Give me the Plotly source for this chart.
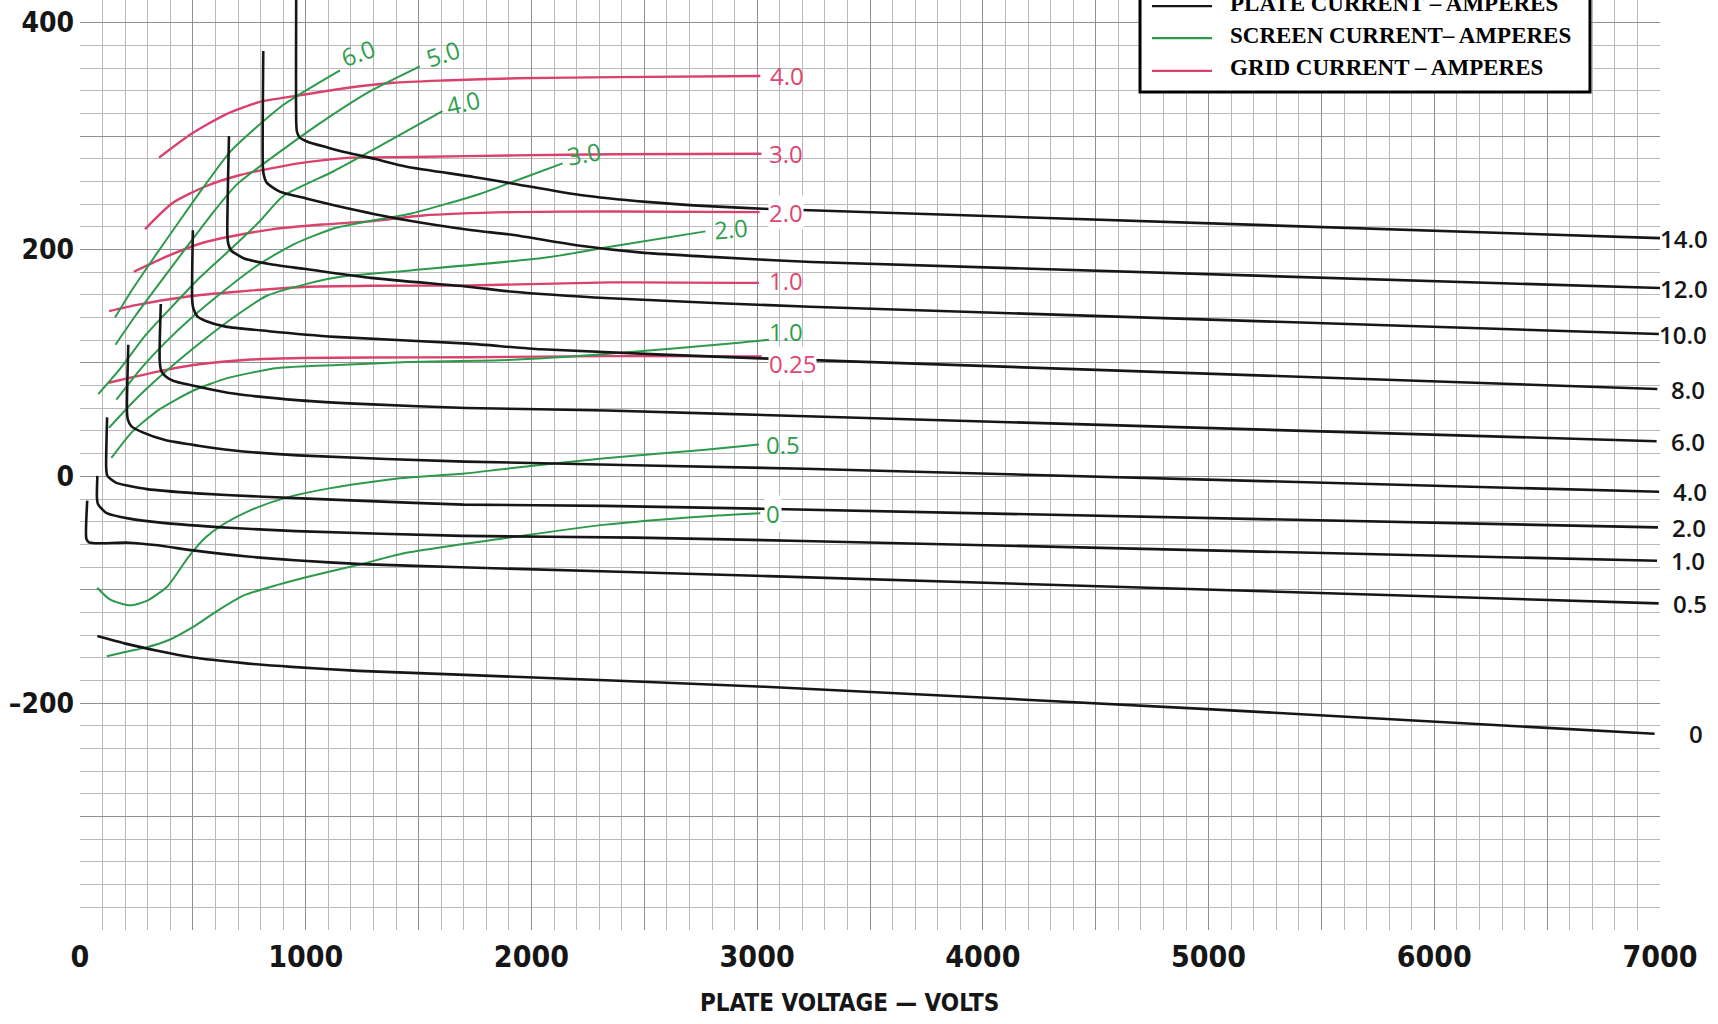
import plotly.graph_objects as go

# ---------------------------------------------------------------------------
# Constant-current characteristics: plate voltage (V) vs. grid voltage (V)
# ---------------------------------------------------------------------------

# Plate current curves (amperes)
PLATE_14_V = [958, 958, 961, 972, 1008, 1096, 1192, 1303, 1448, 1744, 1921, 2216, 2508, 2804, 3026, 7000]
PLATE_14_G = [430, 312, 304, 299, 295, 290, 285, 280, 273, 264, 258, 248, 242, 238, 236, 210]
PLATE_12_V = [812, 810, 814, 827, 885, 1002, 1149, 1442, 1737, 1914, 2208, 2501, 2797, 3240, 7000]
PLATE_12_G = [375, 274, 266, 259, 251, 245, 238, 226, 217, 213, 203.5, 197, 193.5, 189, 166]
PLATE_10_V = [660, 653, 657, 670, 700, 727, 845, 992, 1287, 1729, 1906, 2348, 3234, 6995]
PLATE_10_G = [300, 212, 205, 199, 195, 192, 187, 183, 175, 167, 163, 157, 149.5, 125.5]
PLATE_8_V = [500, 497, 502, 520, 557, 645, 836, 1131, 1721, 2044, 3019, 6988]
PLATE_8_G = [217, 156, 148, 141, 137, 132, 128, 123, 117, 112, 104, 77]
PLATE_6_V = [358, 353, 360, 380, 415, 533, 680, 974, 1269, 1712, 2333, 3219, 6985]
PLATE_6_G = [152, 102, 93, 88, 84, 78.6, 73, 67, 63.7, 60.3, 58, 53, 31]
PLATE_4_V = [214, 208, 212, 228, 275, 377, 524, 672, 967, 1705, 3212, 6996]
PLATE_4_G = [116, 58, 50, 44, 39, 32, 27, 23, 18.5, 13, 6.7, -13.6]
PLATE_2_V = [120, 116, 120, 140, 164, 297, 518, 813, 1256, 1699, 2320, 2998, 6991]
PLATE_2_G = [52, 8, 1, -3, -6, -11.3, -15, -18, -21.6, -24.9, -26, -28.5, -45]
PLATE_1_V = [77, 75, 80, 116, 219, 366, 661, 956, 1695, 2462, 3202, 6987]
PLATE_1_G = [0.4, -18.7, -24.6, -32.2, -37.3, -41, -45.3, -48.3, -52.5, -54, -57, -74.4]
PLATE_05_V = [32, 28, 38, 67, 216, 333, 510, 731, 952, 1247, 1690, 3051, 6994]
PLATE_05_G = [-21.4, -55, -58, -59, -58.5, -60.6, -65.5, -70.5, -74, -77.4, -80.2, -88, -112]
PLATE_0_V = [77, 202, 349, 495, 716, 937, 1233, 1676, 3035, 4975, 6976]
PLATE_0_G = [-140.8, -147.5, -154, -159.5, -164.5, -168, -171.5, -174.8, -185.5, -205, -227]

# Screen current curves (amperes)
SCREEN_6_V = [155, 236, 328, 437, 540, 669, 897, 1152]
SCREEN_6_G = [140, 166, 193, 224, 253, 287, 327, 358]
SCREEN_5_V = [157, 247, 355, 463, 571, 693, 905, 1087, 1290, 1506]
SCREEN_5_G = [116, 142, 171, 199.6, 228, 257, 289, 314.5, 340, 361.5]
SCREEN_4_V = [81, 180, 288.5, 395, 518, 655, 792, 899, 1124, 1304, 1606]
SCREEN_4_G = [72.5, 95.4, 124, 147, 172.7, 198, 224, 247, 269, 288.5, 322]
SCREEN_3_V = [161, 269, 376, 498, 634, 786, 951, 1131, 1295, 1473, 1771, 1921, 2138]
SCREEN_3_G = [67.6, 94.8, 117.7, 140.5, 163, 186, 205, 219, 225.5, 232, 249, 260, 276]
SCREEN_2_V = [128, 235, 357, 509, 675, 826, 1005, 1154, 1465, 2058, 2355, 2771]
SCREEN_2_G = [42.7, 65.6, 88.4, 114, 139.4, 159, 169.7, 176, 181.6, 192.7, 202.6, 216]
SCREEN_1_V = [139, 231, 352, 503, 652, 875, 1142, 1453, 1896, 2341, 2933, 3052]
SCREEN_1_G = [16.2, 39.2, 59, 75.7, 86.6, 95.5, 98.2, 100.8, 102.5, 108, 118, 120.4]
SCREEN_05_V = [76.5, 134, 222, 296, 387, 480, 556, 632, 752, 902, 1110, 1407, 1704, 1881, 2326, 2771, 3008]
SCREEN_05_G = [-98.2, -108.8, -113.7, -109.8, -97.1, -71.2, -54, -42.7, -30.2, -19.4, -10.4, -1.9, 2.5, 6.5, 16, 23.5, 28]
SCREEN_0_V = [118.5, 200.7, 290, 394, 499.5, 605, 725.6, 875, 1024, 1247, 1426, 1872, 2317, 2762, 3014]
SCREEN_0_G = [-158.7, -154.8, -151, -144.3, -133, -119, -105, -95.7, -87.8, -77.4, -68.2, -54.8, -42.8, -35.3, -32.5]

# Grid current curves (amperes)
GRID_4_V = [350, 494, 644, 793, 957, 1165, 1388, 1610, 1935, 2379, 3014]
GRID_4_G = [281, 302, 319, 330, 335.5, 342, 347, 349, 351, 352, 353]
GRID_3_V = [288, 410, 560, 710, 858, 1007, 1200, 1481, 1925, 2368, 3019]
GRID_3_G = [218, 241, 256, 265.7, 272, 277, 281, 281.6, 283, 284, 284.4]
GRID_2_V = [238, 403, 552, 701.5, 850, 1072, 1295, 1517, 1917, 2360, 3011]
GRID_2_G = [180.4, 195.5, 206.4, 212.8, 217.8, 222, 225, 230, 233, 233.5, 233]
GRID_1_V = [129, 248, 471, 694, 990, 1286, 1729, 2351, 3008]
GRID_1_G = [145.7, 151, 158.4, 162.8, 167, 168, 168.3, 171, 170.6]
GRID_025_V = [127, 238.5, 387, 536, 758, 980, 1276, 1719, 2340, 3020]
GRID_025_G = [82.5, 87.7, 94.1, 99, 103, 104.3, 104.8, 105, 106, 105.8]

PLATE_LABELS = ["14.0", "12.0", "10.0", "8.0", "6.0", "4.0", "2.0", "1.0", "0.5", "0"]
SCREEN_LABELS = ["6.0", "5.0", "4.0", "3.0", "2.0", "1.0", "0.5", "0"]
GRID_LABELS = ["4.0", "3.0", "2.0", "1.0", "0.25"]

LEGEND_TEXT = ["PLATE CURRENT – AMPERES", "SCREEN CURRENT– AMPERES", "GRID CURRENT – AMPERES"]

X_TICK_VALUES = [0, 500, 1000, 1500, 2000, 2500, 3000, 3500, 4000, 4500, 5000, 5500, 6000, 6500, 7000]
X_TICK_TEXT = ["0", "", "1000", "", "2000", "", "3000", "", "4000", "", "5000", "", "6000", "", "7000"]
Y_TICK_VALUES = [-400, -300, -200, -100, 0, 100, 200, 300, 400]
Y_TICK_TEXT = ["", "", "\u2013200", "", "0", "", "200", "", "400"]

AXIS_TITLE = "PLATE VOLTAGE \u2014 VOLTS"

# ---------------------------------------------------------------------------
BLACK = "#161616"
GREEN = "#2c9a4b"
RED = "#d9426c"
GREEN_TXT = "#2f9d4e"
RED_TXT = "#df4670"

COND = "Liberation Sans Narrow, DejaVu Sans Condensed, Arial Narrow, Liberation Sans, sans-serif"
LABEL_FONT = "Open Sans, Lato, Noto Sans, sans-serif"

plate = [(PLATE_14_V, PLATE_14_G), (PLATE_12_V, PLATE_12_G), (PLATE_10_V, PLATE_10_G),
         (PLATE_8_V, PLATE_8_G), (PLATE_6_V, PLATE_6_G), (PLATE_4_V, PLATE_4_G),
         (PLATE_2_V, PLATE_2_G), (PLATE_1_V, PLATE_1_G), (PLATE_05_V, PLATE_05_G),
         (PLATE_0_V, PLATE_0_G)]
screen = [(SCREEN_6_V, SCREEN_6_G), (SCREEN_5_V, SCREEN_5_G), (SCREEN_4_V, SCREEN_4_G),
          (SCREEN_3_V, SCREEN_3_G), (SCREEN_2_V, SCREEN_2_G), (SCREEN_1_V, SCREEN_1_G),
          (SCREEN_05_V, SCREEN_05_G), (SCREEN_0_V, SCREEN_0_G)]
grid = [(GRID_4_V, GRID_4_G), (GRID_3_V, GRID_3_G), (GRID_2_V, GRID_2_G),
        (GRID_1_V, GRID_1_G), (GRID_025_V, GRID_025_G)]

fig = go.Figure()

def add_family(curves, labels, color, width, name):
    for (v, g), lab in zip(curves, labels):
        fig.add_trace(go.Scatter(
            x=v, y=g, mode="lines", name=f"{name} {lab}",
            line=dict(color=color, width=width, shape="spline", smoothing=0.6),
            hoverinfo="skip", showlegend=False))

add_family(grid, GRID_LABELS, RED, 2.4, "Grid")
add_family(screen, SCREEN_LABELS, GREEN, 2.0, "Screen")
add_family(plate, PLATE_LABELS, BLACK, 2.6, "Plate")

annotations = []

# plate-current values, right-aligned beyond the 7000 V edge
for (v, g), lab in zip(plate, PLATE_LABELS):
    annotations.append(dict(
        x=v[-1], y=g[-1], xref="x", yref="y", text=lab, showarrow=False,
        xanchor="right", yanchor="middle", xshift=50,
        font=dict(family=LABEL_FONT, size=24, color=BLACK, weight=600)))

# screen-current values at the ends of the green curves (dx, dy, angle, white backing)
screen_offsets = [(18, 18, -20, False), (23, 13, -18, False), (20, 9, -13, False),
                  (21, 10, -10, False), (26, 3, -5, False), (17, 8, 0, False),
                  (24, 0, 0, False), (13, 0, 0, True)]
for (v, g), lab, (dx, dy, ang, bg) in zip(screen, SCREEN_LABELS, screen_offsets):
    annotations.append(dict(
        x=v[-1], y=g[-1], xref="x", yref="y", text=lab, showarrow=False,
        xanchor="center", yanchor="middle", xshift=dx, yshift=dy, textangle=ang,
        bgcolor="white" if bg else None, borderpad=1,
        font=dict(family=LABEL_FONT, size=24, color=GREEN_TXT, weight=500)))

# grid-current values at the ends of the red curves
grid_offsets = [(27, 0, False), (25, 0, False), (26, 0, True), (27, 2, False), (31, -7, True)]
for (v, g), lab, (dx, dy, bg) in zip(grid, GRID_LABELS, grid_offsets):
    annotations.append(dict(
        x=v[-1], y=g[-1], xref="x", yref="y", text=lab, showarrow=False,
        xanchor="center", yanchor="middle", xshift=dx, yshift=dy,
        bgcolor="white" if bg else None, borderpad=0,
        font=dict(family=LABEL_FONT, size=24, color=RED_TXT, weight=500)))

# x-axis title
annotations.append(dict(
    x=0.487, y=-0.078, xref="paper", yref="paper", text=AXIS_TITLE, showarrow=False,
    xanchor="center", yanchor="middle",
    font=dict(family=COND, size=24, color=BLACK, weight="bold")))

# legend box (drawn by hand so it can run off the top edge)
legend_rows_text_y = [0.9957, 0.9613, 0.9269]
legend_rows_line_y = [0.9935, 0.9591, 0.9237]
legend_colors = [BLACK, GREEN, RED]
shapes = [dict(type="rect", xref="paper", yref="paper", x0=0.6709, x1=0.9557, y0=0.9011, y1=1.08,
               line=dict(color="black", width=3), fillcolor="white", layer="above")]
for ty, ly, col, txt in zip(legend_rows_text_y, legend_rows_line_y, legend_colors, LEGEND_TEXT):
    shapes.append(dict(type="line", xref="paper", yref="paper", x0=0.6785, x1=0.7165, y0=ly, y1=ly,
                       line=dict(color=col, width=2.2), layer="above"))
    annotations.append(dict(
        x=0.7266, y=ty, xref="paper", yref="paper", text=txt, showarrow=False,
        xanchor="left", yanchor="middle",
        font=dict(family="Liberation Serif, Times New Roman, serif", size=23, color="black", weight="bold")))

fig.update_layout(
    width=1718, height=1024,
    margin=dict(l=80, r=58, t=0, b=94),
    paper_bgcolor="white", plot_bgcolor="white",
    showlegend=False,
    annotations=annotations, shapes=shapes,
    xaxis=dict(
        range=[0, 7000], tickmode="array", tickvals=X_TICK_VALUES, ticktext=X_TICK_TEXT,
        showgrid=True, gridcolor="#8f8f8f", gridwidth=1.4, zeroline=False, ticks="",
        showline=False, ticklabelstandoff=6,
        tickfont=dict(family=COND, size=30, color=BLACK, weight="bold"),
        minor=dict(tick0=0, dtick=100, showgrid=True, gridcolor="#b9b9b9", gridwidth=1),
    ),
    yaxis=dict(
        range=[-400, 420], tickmode="array", tickvals=Y_TICK_VALUES, ticktext=Y_TICK_TEXT,
        showgrid=True, gridcolor="#8f8f8f", gridwidth=1.4, zeroline=False, ticks="",
        showline=False, ticklabelstandoff=5,
        tickfont=dict(family=COND, size=28, color=BLACK, weight="bold"),
        minor=dict(tick0=0, dtick=20, showgrid=True, gridcolor="#b9b9b9", gridwidth=1),
    ),
)

fig.write_html("out.html")
